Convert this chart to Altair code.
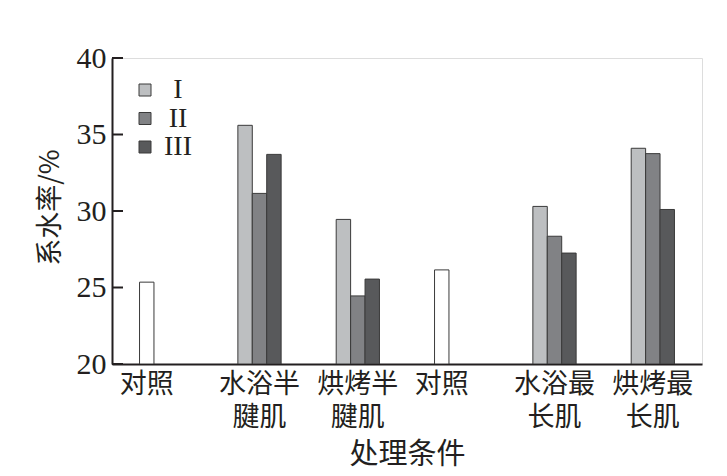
import altair as alt
import pandas as pd

# ---- data ----
cat_keys = ["c1", "c2", "c3", "c4", "c5", "c6"]
cat_labels = ["对照", "水浴半\n腱肌", "烘烤半\n腱肌", "对照", "水浴最\n长肌", "烘烤最\n长肌"]
is_control = [True, False, False, True, False, False]
series = ["I", "II", "III"]
vals_I = [25.35, 35.6, 29.45, 26.15, 30.3, 34.1]
vals_II = [None, 31.15, 24.45, None, 28.35, 33.75]
vals_III = [None, 33.7, 25.55, None, 27.25, 30.1]
y_ticks = [20, 25, 30, 35, 40]

rows = []
for i, k in enumerate(cat_keys):
    for s, vals in zip(series, [vals_I, vals_II, vals_III]):
        v = vals[i]
        if v is None:
            continue
        rows.append({"cat": k, "series": s, "value": v,
                     "ckey": "对照" if is_control[i] else s})
bars_df = pd.DataFrame(rows)
# label sits under the single control bar, or under the middle bar of a group
labels_df = pd.DataFrame({"cat": cat_keys, "label": cat_labels,
                          "anchor": ["I" if c else "II" for c in is_control]})
ticks_df = pd.DataFrame({"t": y_ticks})

TXT = "#231f20"
SERIF = "Liberation Serif"
CJK = "Noto Sans CJK SC"

yscale = alt.Scale(domain=[20, 40], zero=False, nice=False)
xscale = alt.Scale(domain=cat_keys, paddingInner=0.56, paddingOuter=0.28)
offscale = alt.Scale(domain=series, paddingInner=0, paddingOuter=0)

bars = alt.Chart(bars_df).mark_bar(stroke="#3a3a3a", strokeWidth=1, clip=True).encode(
    x=alt.X("cat:N", sort=cat_keys, scale=xscale,
            axis=alt.Axis(labels=False, ticks=False, tickSize=0, domain=True,
                          domainColor=TXT, domainWidth=2,
                          title="处理条件", titleFont=CJK, titleFontSize=29,
                          titleFontWeight="normal", titleColor=TXT,
                          titleY=76, titleBaseline="top")),
    xOffset=alt.XOffset("series:N", sort=series, scale=offscale),
    y=alt.Y("value:Q", scale=yscale,
            axis=alt.Axis(values=y_ticks, ticks=False, tickSize=0, grid=False,
                          domainColor=TXT, domainWidth=2,
                          labelFont=SERIF, labelFontSize=30, labelColor=TXT,
                          labelPadding=6,
                          title="系水率/%", titleFont=CJK, titleFontSize=27,
                          titleFontWeight="normal", titleColor=TXT,
                          titleX=-62, titleY=149, titleAngle=-90,
                          titleBaseline="middle", titleAlign="center")),
    y2=alt.datum(20),
    color=alt.Color("ckey:N",
                    scale=alt.Scale(domain=["I", "II", "III", "对照"],
                                    range=["#bdbfc1", "#818285", "#58595b", "#ffffff"]),
                    legend=alt.Legend(values=series, title=None, orient="none",
                                      legendX=19, legendY=18, padding=0,
                                      symbolType="square", symbolSize=144,
                                      symbolStrokeColor="#3a3a3a", symbolStrokeWidth=1,
                                      symbolOpacity=1,
                                      labelFont=SERIF, labelFontSize=28,
                                      labelColor=TXT, labelAlign="center",
                                      labelOffset=19, rowPadding=0.5)),
)

ticks = alt.Chart(ticks_df).mark_rule(color=TXT, strokeWidth=2).encode(
    x=alt.value(0), x2=alt.value(11),
    y=alt.Y("t:Q", scale=yscale),
)

xlabels = alt.Chart(labels_df).mark_text(
    font=CJK, fontSize=27, color=TXT, baseline="top", align="center",
    lineBreak="\n", lineHeight=33,
).encode(
    x=alt.X("cat:N", sort=cat_keys, scale=xscale),
    xOffset=alt.XOffset("anchor:N", sort=series, scale=offscale),
    y=alt.value(314),
    text="label:N",
)

chart = alt.layer(bars, ticks, xlabels).properties(
    width=590, height=306,
    autosize=alt.AutoSizeParams(type="none"),
    padding={"left": 104, "top": 50, "right": 17, "bottom": 110},
).configure_view(strokeWidth=0, stroke="transparent").configure(background="white")

chart.save("out.html", embed_options={"renderer": "svg", "actions": False})
